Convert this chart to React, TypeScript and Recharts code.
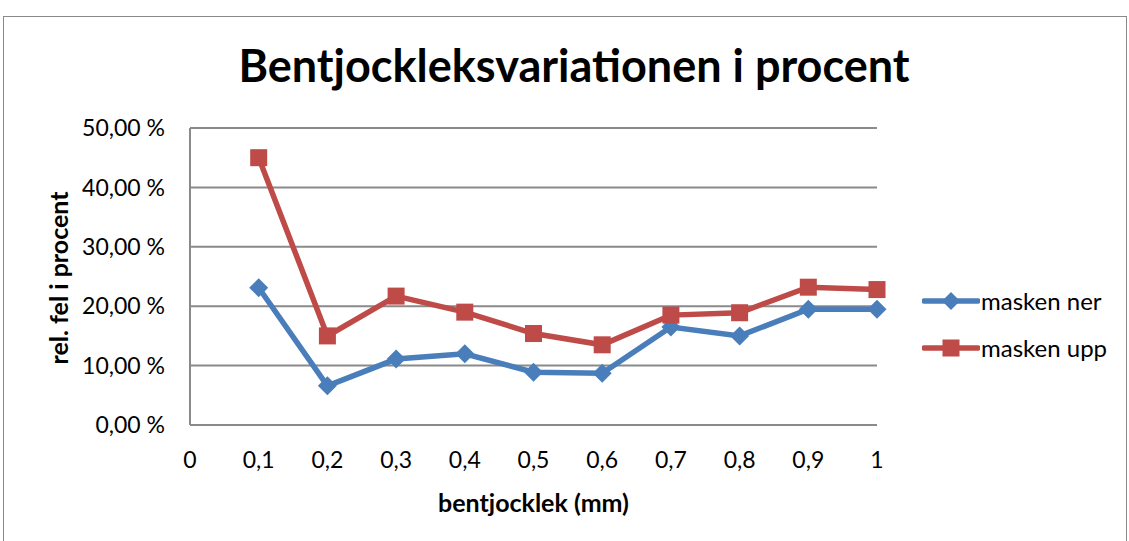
import { LineChart, Line, XAxis, YAxis, CartesianGrid } from 'recharts';

const thickness = [0.1, 0.2, 0.3, 0.4, 0.5, 0.6, 0.7, 0.8, 0.9, 1];
const maskenNer = [23.1, 6.6, 11.1, 12.0, 8.9, 8.7, 16.5, 15.0, 19.5, 19.5];
const maskenUpp = [45.0, 15.0, 21.7, 19.0, 15.4, 13.5, 18.5, 18.9, 23.2, 22.8];
const xTicks = [0, 0.1, 0.2, 0.3, 0.4, 0.5, 0.6, 0.7, 0.8, 0.9, 1];
const yTicks = [0, 10, 20, 30, 40, 50];

const data = thickness.map((x, i) => ({ x, ner: maskenNer[i], upp: maskenUpp[i] }));

const BLUE = '#4a7ebb';
const RED = '#be4b48';
const FONT = 'Lato, "Open Sans", sans-serif';

const comma = (v: number, d: number) => v.toFixed(d).replace('.', ',');

function Diamond(props: any) {
  const { cx, cy } = props;
  if (cx == null || cy == null) return null;
  const r = 9.5;
  return <path d={`M${cx},${cy - r}L${cx + r},${cy}L${cx},${cy + r}L${cx - r},${cy}Z`} fill={BLUE} />;
}

function Square(props: any) {
  const { cx, cy } = props;
  if (cx == null || cy == null) return null;
  const h = 8.5;
  return <rect x={cx - h} y={cy - h} width={h * 2} height={h * 2} fill={RED} />;
}

// legend drawn by hand, the recharts one eats into the plot area
function LegendBox() {
  const items = [
    { name: 'masken ner', color: BLUE, marker: 'd' },
    { name: 'masken upp', color: RED, marker: 's' },
  ];
  return (
    <div style={{ fontFamily: FONT, fontSize: 24, color: '#000' }}>
      {items.map((it) => (
        <div key={it.name} style={{ display: 'flex', alignItems: 'center', height: 47 }}>
          <svg width={58} height={24}>
            <line x1={2} y1={12} x2={56} y2={12} stroke={it.color} strokeWidth={5.5} strokeLinecap="round" />
            {it.marker === 'd' ? (
              <path d="M29,3L38,12L29,21L20,12Z" fill={it.color} />
            ) : (
              <rect x={20.5} y={3.5} width={17} height={17} fill={it.color} />
            )}
          </svg>
          <span style={{ marginLeft: 1 }}>{it.name}</span>
        </div>
      ))}
    </div>
  );
}

export default function App() {
  return (
    <div style={{ position: 'absolute', left: 0, top: 0, width: 1129, height: 541, overflow: 'hidden', background: '#fff' }}>
      <div style={{ position: 'absolute', left: 3, top: 16, width: 1122, height: 600, border: '1.5px solid #8a8a8a' }} />
      <div
        style={{
          position: 'absolute', left: 0, top: 38, width: 1148, textAlign: 'center',
          fontFamily: FONT, fontWeight: 700, fontSize: 45, color: '#000', lineHeight: 1.2,
        }}
      >
        Bentjockleksvariationen i procent
      </div>
      <div
        style={{
          position: 'absolute', left: 190, top: 487, width: 687, textAlign: 'center',
          fontFamily: FONT, fontWeight: 700, fontSize: 25, color: '#000', lineHeight: 1.2,
        }}
      >
        bentjocklek (mm)
      </div>
      <div
        style={{
          position: 'absolute', left: 58, top: 278, width: 300, marginLeft: -150, marginTop: -15,
          textAlign: 'center', transform: 'rotate(-90deg)',
          fontFamily: FONT, fontWeight: 700, fontSize: 25, color: '#000', lineHeight: '30px',
        }}
      >
        rel. fel i procent
      </div>
      <div style={{ position: 'absolute', top: 0, left: 0 }}>
        <LineChart width={1129} height={541} data={data} margin={{ top: 128, right: 252, bottom: 0, left: 0 }}>
          <CartesianGrid vertical={false} stroke="#8a8a8a" strokeWidth={2} />
          <XAxis
            dataKey="x"
            type="number"
            domain={[0, 1]}
            ticks={xTicks}
            tickFormatter={(v: number) => (v === 0 || v === 1 ? String(v) : comma(v, 1))}
            axisLine={false}
            tickLine={false}
            tickSize={0}
            tickMargin={27}
            height={116}
            interval={0}
            tick={{ fill: '#000', fontSize: 23, fontFamily: FONT }}
          />
          <YAxis
            domain={[0, 50]}
            ticks={yTicks}
            tickFormatter={(v: number) => comma(v, 2) + ' %'}
            axisLine={{ stroke: '#8a8a8a', strokeWidth: 2 }}
            tickLine={false}
            tickSize={0}
            tickMargin={25}
            width={190}
            interval={0}
            tick={{ fill: '#000', fontSize: 23, fontFamily: FONT }}
          />
          <Line
            dataKey="ner"
            name="masken ner"
            stroke={BLUE}
            strokeWidth={5.5}
            dot={<Diamond />}
            activeDot={false}
            isAnimationActive={false}
          />
          <Line
            dataKey="upp"
            name="masken upp"
            stroke={RED}
            strokeWidth={5.5}
            dot={<Square />}
            activeDot={false}
            isAnimationActive={false}
          />
        </LineChart>
      </div>
      <div style={{ position: 'absolute', left: 922, top: 277 }}>
        <LegendBox />
      </div>
    </div>
  );
}
